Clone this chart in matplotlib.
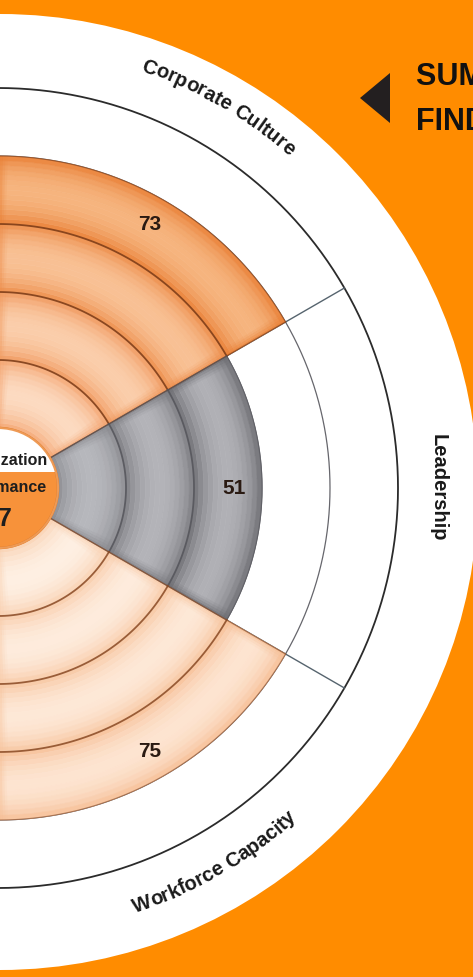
import math
import numpy as np
import matplotlib
matplotlib.use('Agg')
import matplotlib.pyplot as plt
from matplotlib.colors import to_rgb
from matplotlib.font_manager import FontProperties
from matplotlib.patches import Circle, Rectangle, Polygon

W, H, DPI = 473, 977, 100

# --- chart data ---------------------------------------------------------
categories = ['Corporate Culture', 'Leadership', 'Workforce Capacity']
scores = [73, 51, 75]
centre_words = ['Organization', 'Performance']
centre_score = 67
title_lines = ['SUMMARY OF', 'FINDINGS']

BAND_PTS = 20      # score points per ring
N_RINGS = 5

# --- geometry (pixels) ----------------------------------------------------
HOLE = 60          # radius of centre disc
RING = 68          # ring thickness
CX, CY = -2, 488   # chart centre, px from top-left
RMAX = 500
SECTOR = 60        # degrees per sector

ORANGE = '#FF8C00'
# (edge, middle) colour of innermost ring and of outermost ring
PALETTE = {
    'Corporate Culture': (('#F4A470', '#FCDAC0'), ('#E97F34', '#F6B47E')),
    'Leadership': (('#8A8A8F', '#B6B7BC'), ('#6C6C71', '#B0B0B5')),
    'Workforce Capacity': (('#F9D0B0', '#FEEFE2'), ('#F6BE94', '#FDE4D0')),
}
SEP = {'Corporate Culture': '#7A3A16', 'Leadership': '#55555B',
       'Workforce Capacity': '#8A4A24'}

LABEL_FONT = FontProperties(family=['Liberation Sans', 'DejaVu Sans'],
                            weight='bold', size=14.5)


def mix(a, b, f):
    a = np.asarray(to_rgb(a))
    b = np.asarray(to_rgb(b))
    return a + (b - a) * f


fig = plt.figure(figsize=(W / DPI, H / DPI), dpi=DPI)
fig.patch.set_facecolor(ORANGE)

# background (white disc) in pixel coords
bg = fig.add_axes([0, 0, 1, 1], zorder=-1)
bg.set_xlim(0, W)
bg.set_ylim(H, 0)
bg.axis('off')
bg.add_patch(Circle((0, CY + 4), 478, fc='white', ec='none'))

# polar chart
cyb = H - CY
ax = fig.add_axes([(CX - RMAX) / W, (cyb - RMAX) / H, 2 * RMAX / W, 2 * RMAX / H],
                  projection='polar', zorder=0)
ax.set_ylim(0, RMAX)
ax.axis('off')
ax.patch.set_alpha(0)

# grid: ring circles and sector edges (seam kept on the hidden side)
tt = np.linspace(np.pi, 3 * np.pi, 721)
R_OUT = HOLE + N_RINGS * RING
for k in range(1, N_RINGS):
    ax.plot(tt, np.full_like(tt, HOLE + k * RING), color='#66666C', lw=0.9, zorder=1)
ax.plot(tt, np.full_like(tt, R_OUT), color='#2B2B2B', lw=1.3, zorder=1)
for e in np.arange(SECTOR / 2, 360, SECTOR):
    ax.plot([np.radians(e)] * 2, [HOLE, R_OUT], color='#56646E', lw=1.0, zorder=1)

NSUB = 14
span = np.radians(SECTOR)
for i, (cat, score) in enumerate(zip(categories, scores)):
    n = math.ceil(score / BAND_PTS)
    theta = np.radians(SECTOR - SECTOR * i)
    (ie, im), (oe, om) = PALETTE[cat]
    for k in range(n):
        f = k / max(n - 1, 1)
        edge = mix(ie, oe, f)
        mid = mix(im, om, f)
        r0 = HOLE + k * RING
        for j in range(NSUB):
            t = (j + 0.5) / NSUB
            c = edge + (mid - edge) * np.sin(np.pi * t) ** 0.7
            ax.bar(theta, RING / NSUB, width=span, bottom=r0 + j * RING / NSUB,
                   color=c, edgecolor=c, lw=0.4, zorder=2)
        # darker shading along the sector sides
        rm = r0 + RING / 2
        for s, a in zip(range(4), [0.7, 0.45, 0.25, 0.1]):
            dth = 2.2 / rm
            for side in (-1, 1):
                th = theta + side * (span / 2 - (s + 0.5) * dth)
                ax.bar(th, RING, width=dth, bottom=r0, color=edge, alpha=a,
                       lw=0, zorder=2.1)
    arc = np.linspace(theta - span / 2, theta + span / 2, 120)
    for k in range(1, n):
        ax.plot(arc, np.full_like(arc, HOLE + k * RING), color=SEP[cat], lw=1.3,
                alpha=0.85, zorder=3)
    ax.plot(arc, np.full_like(arc, HOLE + n * RING), color=SEP[cat], lw=0.8,
            alpha=0.6, zorder=3)
    for e in (theta - span / 2, theta + span / 2):
        ax.plot([e, e], [HOLE, HOLE + n * RING], color=SEP[cat], lw=0.9,
                alpha=0.7, zorder=3)
    ax.text(theta, HOLE + (n - 0.5) * RING + 6, str(score), ha='center',
            va='center', fontsize=15, fontweight='bold',
            family=['Liberation Sans', 'DejaVu Sans'], color='#2A1A12', zorder=5)


def arc_text(s, deg, r, top=True):
    rend = fig.canvas.get_renderer()

    def wid(txt):
        return rend.get_text_width_height_descent(txt, LABEL_FONT, ismath=False)[0]

    bar = wid('|')
    adv = [0.0] + [wid(s[:i] + '|') - bar for i in range(1, len(s) + 1)]
    total = adv[-1]
    for i, ch in enumerate(s):
        if ch == ' ':
            continue
        d = (adv[i] + adv[i + 1]) / 2 - total / 2
        if top:
            th = np.radians(deg) - d / r
            rot = np.degrees(th) - 90
        else:
            th = np.radians(deg) + d / r
            rot = np.degrees(th) + 90
        ax.text(th, r, ch, rotation=rot, rotation_mode='anchor', ha='center',
                va='baseline', fontproperties=LABEL_FONT, color='#1A1A1A', zorder=5)


arc_text(categories[0], SECTOR, 441, top=True)
ax.text(0, 435, categories[1], rotation=-90, rotation_mode='anchor', ha='center',
        va='baseline', fontproperties=LABEL_FONT, color='#1A1A1A', zorder=5)
arc_text(categories[2], -SECTOR, 446, top=False)

# foreground: centre disc and heading
fg = fig.add_axes([0, 0, 1, 1], zorder=2)
fg.set_xlim(0, W)
fg.set_ylim(H, 0)
fg.axis('off')
fg.patch.set_alpha(0)
disc = Circle((CX, CY), HOLE, fc='#F7923A', ec='#E07A28', lw=1.8)
fg.add_patch(disc)
cap = Rectangle((CX - HOLE, CY - HOLE), 2 * HOLE, HOLE - 16, fc='white', ec='none')
fg.add_patch(cap)
cap.set_clip_path(disc)
fg.add_patch(Circle((CX, CY), HOLE, fc='none', ec='#EE9A55', lw=1.5))
fg.text(CX, 461, centre_words[0], ha='center', va='center', fontsize=11.5,
        fontweight='bold', family=['Liberation Sans', 'DejaVu Sans'], color='#1E1E1E')
fg.text(CX, 488, centre_words[1], ha='center', va='center', fontsize=11.5,
        fontweight='bold', family=['Liberation Sans', 'DejaVu Sans'], color='#1E1E1E')
fg.text(CX, 519, str(centre_score), ha='center', va='center', fontsize=18,
        fontweight='bold', family=['Liberation Sans Narrow', 'Liberation Sans', 'DejaVu Sans'],
        color='#1E1E1E')

fg.add_patch(Polygon([[360, 98], [390, 73], [390, 123]], closed=True,
                     fc='#231F20', ec='none'))
for k, line in enumerate(title_lines):
    fg.text(416, 85 + 45 * k, line, ha='left', va='baseline', fontsize=22,
            fontweight='bold', family=['Liberation Sans', 'DejaVu Sans'], color='#111111')

fig.savefig('out.png', dpi=DPI, facecolor=ORANGE)
